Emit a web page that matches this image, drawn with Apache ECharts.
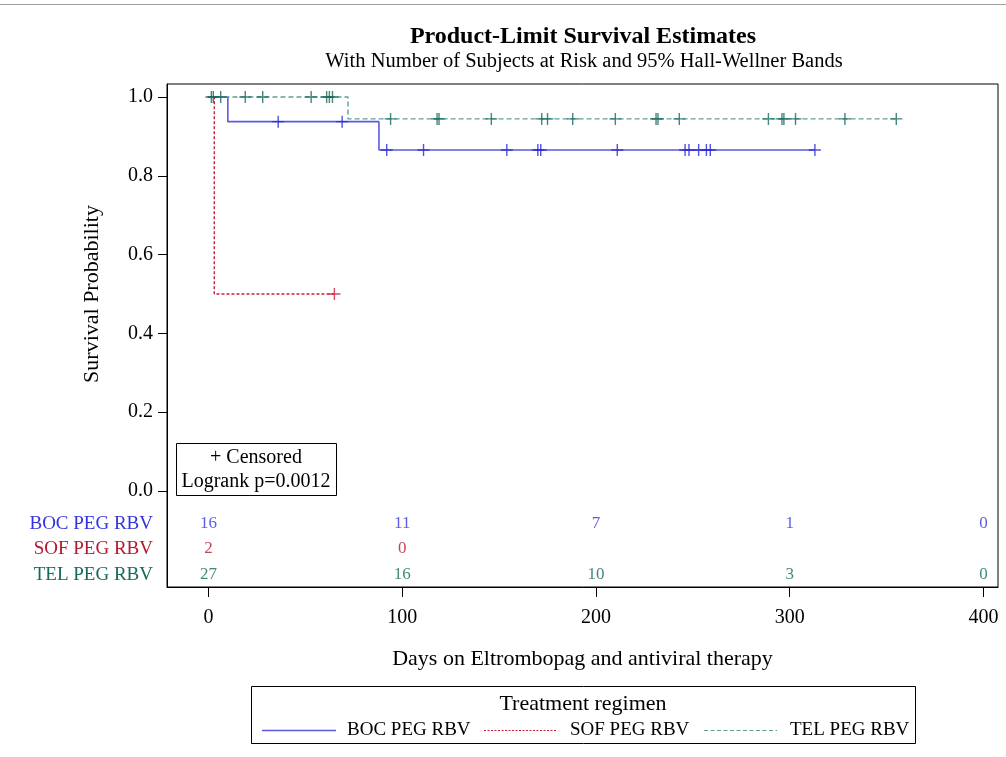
<!DOCTYPE html>
<html><head><meta charset="utf-8">
<script src="https://cdn.jsdelivr.net/npm/echarts@6/dist/echarts.min.js"></script>
<style>html,body{margin:0;padding:0;background:#fff}#c{width:1006px;height:757px}</style>
</head><body><div id="c"></div>
<script>
// ---- data ----
const groups = ['BOC PEG RBV', 'SOF PEG RBV', 'TEL PEG RBV'];
const bocTimes = [0, 10, 88, 313];
const bocSurv  = [1, 0.9375, 0.8654, 0.8654];
const sofTimes = [0, 3, 65];
const sofSurv  = [1, 0.5, 0.5];
const telTimes = [0, 72, 355];
const telSurv  = [1, 0.9444, 0.9444];
const bocCensor = [36, 69, 92, 111, 154, 170, 171.5, 211, 246, 248, 253, 257, 259, 313];
const sofCensor = [65];
const telCensor = [1.5, 2.5, 6.3, 19, 28, 53, 61, 62.4, 64, 94, 118, 119, 146, 172, 175, 188, 210, 231, 232, 243, 289, 296, 297, 303, 328.5, 355];
const riskTimes = [0, 100, 200, 300, 400];
const bocRisk = [16, 11, 7, 1, 0];
const sofRisk = [2, 0];
const telRisk = [27, 16, 10, 3, 0];
const xTicks = [0, 100, 200, 300, 400];
const yTicks = [0, 0.2, 0.4, 0.6, 0.8, 1.0];
const logrankText = 'Logrank p=0.0012';

// ---- style / layout ----
const FONT = '"Liberation Serif", "DejaVu Serif", serif';
const colors = {
  boc: {line: '#5a5ae2', mark: '#2626d6', text: '#3434dc'},
  sof: {line: '#c8203c', mark: '#c8203c', text: '#b5182f'},
  tel: {line: '#5f9f95', mark: '#15685b', text: '#146a5d'}
};
const rowY = [-0.0838, -0.147, -0.213];
const plus = 'path://M5.3,0 h1.4 v5.3 h5.3 v1.4 h-5.3 v5.3 h-1.4 v-5.3 h-5.3 v-1.4 h5.3 z';

function zip(t, s) { return t.map((v, i) => [v, s[i]]); }
function stepVal(t, s, x) { let v = s[0]; for (let i = 0; i < t.length; i++) if (t[i] <= x) v = s[i]; return v; }
function censorPts(c, t, s) { return c.map(x => [x, stepVal(t, s, x)]); }
function riskPts(vals, row) { return vals.map((v, i) => [riskTimes[i], rowY[row], v]); }

const keys = ['boc', 'sof', 'tel'];
const curves = [[bocTimes, bocSurv, bocCensor, bocRisk], [sofTimes, sofSurv, sofCensor, sofRisk], [telTimes, telSurv, telCensor, telRisk]];
const dashes = ['solid', [3, 2], [5, 3]];

const series = [];
curves.forEach((c, i) => {
  const col = colors[keys[i]];
  series.push({
    type: 'line', name: groups[i], step: 'end', data: zip(c[0], c[1]), showSymbol: false,
    lineStyle: {color: col.line, width: i === 0 ? 1.6 : 1.4, type: dashes[i]}, z: 2, silent: true
  });
});
curves.forEach((c, i) => {
  const col = colors[keys[i]];
  series.push({
    type: 'scatter', data: censorPts(c[2], c[0], c[1]), symbol: plus, symbolSize: 12,
    itemStyle: {color: col.mark}, z: 3, silent: true
  });
});
curves.forEach((c, i) => {
  const col = colors[keys[i]];
  series.push({
    type: 'scatter', data: riskPts(c[3], i), symbolSize: 0, silent: true,
    label: {show: true, position: 'inside', formatter: p => String(p.value[2]),
      color: col.text, fontFamily: FONT, fontSize: 17}
  });
});

const rowKey = v => { for (let i = 0; i < rowY.length; i++) if (Math.abs(v - rowY[i]) < 1e-6) return i; return -1; };

const option = {
  animation: false,
  backgroundColor: '#fff',
  grid: {left: 167, right: 8, top: 84, bottom: 170, show: true, borderColor: '#000', borderWidth: 1},
  xAxis: {
    type: 'value', min: -21.4, max: 407.5,
    axisLine: {show: true, onZero: false, lineStyle: {color: '#000', width: 1}},
    axisTick: {show: true, length: 10, lineStyle: {color: '#000'}, customValues: xTicks},
    axisLabel: {customValues: xTicks, color: '#000', fontFamily: FONT, fontSize: 20, margin: 21},
    splitLine: {show: false},
    name: 'Days on Eltrombopag and antiviral therapy', nameLocation: 'middle', nameGap: 61,
    nameTextStyle: {color: '#000', fontFamily: FONT, fontSize: 22}
  },
  yAxis: {
    type: 'value', min: -0.2437, max: 1.033,
    axisLine: {show: true, onZero: false, lineStyle: {color: '#000', width: 1}},
    axisTick: {show: true, length: 9, lineStyle: {color: '#000'}, customValues: yTicks},
    axisLabel: {
      customValues: yTicks.concat(rowY), margin: 14, color: '#000', fontFamily: FONT, fontSize: 20,
      formatter: v => { const r = rowKey(v); return r >= 0 ? '{' + keys[r] + '|' + groups[r] + '}' : v.toFixed(1); },
      rich: {
        boc: {color: colors.boc.text, fontFamily: FONT, fontSize: 19},
        sof: {color: colors.sof.text, fontFamily: FONT, fontSize: 19},
        tel: {color: colors.tel.text, fontFamily: FONT, fontSize: 19}
      }
    },
    splitLine: {show: false}
  },
  graphic: [
    {type: 'line', shape: {x1: 0, y1: 4.5, x2: 1006, y2: 4.5}, style: {stroke: '#a0a0a0', lineWidth: 1}},
    {type: 'text', x: 583, y: 37, style: {text: 'Product-Limit Survival Estimates', font: 'bold 24px ' + FONT, fill: '#000', textAlign: 'center', textVerticalAlign: 'middle'}},
    {type: 'text', x: 584, y: 62, style: {text: 'With Number of Subjects at Risk and 95% Hall-Wellner Bands', font: '20.5px ' + FONT, fill: '#000', textAlign: 'center', textVerticalAlign: 'middle'}},
    {type: 'text', x: 92, y: 294, rotation: Math.PI / 2, style: {text: 'Survival Probability', font: '22px ' + FONT, fill: '#000', textAlign: 'center', textVerticalAlign: 'middle'}},
    {type: 'rect', shape: {x: 176.5, y: 443.5, width: 160, height: 52}, style: {fill: '#fff', stroke: '#000', lineWidth: 1}, z: 10},
    {type: 'text', x: 256, y: 458, z: 11, style: {text: '+ Censored', font: '20px ' + FONT, fill: '#000', textAlign: 'center', textVerticalAlign: 'middle'}},
    {type: 'text', x: 256, y: 482, z: 11, style: {text: logrankText, font: '20px ' + FONT, fill: '#000', textAlign: 'center', textVerticalAlign: 'middle'}},
    {type: 'rect', shape: {x: 251.5, y: 686.5, width: 664, height: 57}, style: {fill: '#fff', stroke: '#000', lineWidth: 1}},
    {type: 'text', x: 583, y: 704, style: {text: 'Treatment regimen', font: '22px ' + FONT, fill: '#000', textAlign: 'center', textVerticalAlign: 'middle'}},
    {type: 'line', shape: {x1: 262, y1: 730.5, x2: 336, y2: 730.5}, style: {stroke: colors.boc.line, lineWidth: 1.4}},
    {type: 'line', shape: {x1: 484, y1: 730.5, x2: 557, y2: 730.5}, style: {stroke: colors.sof.line, lineWidth: 1.2, lineDash: [2, 1.5]}},
    {type: 'line', shape: {x1: 704, y1: 730.5, x2: 777, y2: 730.5}, style: {stroke: colors.tel.line, lineWidth: 1.2, lineDash: [4, 2.5]}},
    {type: 'text', x: 347, y: 730, style: {text: groups[0], font: '19px ' + FONT, fill: '#000', textAlign: 'left', textVerticalAlign: 'middle'}},
    {type: 'text', x: 570, y: 730, style: {text: groups[1], font: '19px ' + FONT, fill: '#000', textAlign: 'left', textVerticalAlign: 'middle'}},
    {type: 'text', x: 790, y: 730, style: {text: groups[2], font: '19px ' + FONT, fill: '#000', textAlign: 'left', textVerticalAlign: 'middle'}}
  ],
  series: series
};
const chart = echarts.init(document.getElementById('c'), null, {renderer: 'canvas'});
chart.setOption(option);
</script></body></html>
